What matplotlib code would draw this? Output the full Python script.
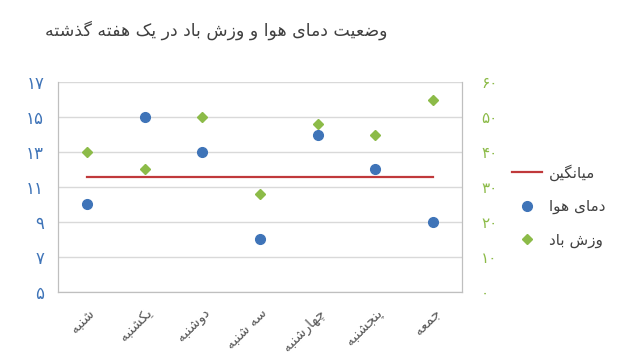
"""Weekly temperature and wind chart (Persian labels)."""
import matplotlib
matplotlib.use('Agg')
import matplotlib.pyplot as plt
import numpy as np

TITLE = 'وضعیت دمای هوا و وزش باد در یک هفته گذشته'
DAYS = ['شنبه', 'یکشنبه', 'دوشنبه', 'سه شنبه', 'چهارشنبه', 'پنجشنبه', 'جمعه']
TEMP = [10, 15, 13, 8, 14, 12, 9]
WIND = [40, 35, 50, 28, 48, 45, 55]
LEFT_TICKS = [5, 7, 9, 11, 13, 15, 17]
RIGHT_TICKS = [0, 10, 20, 30, 40, 50, 60]
LBL_MEAN = 'میانگین'
LBL_TEMP = 'دمای هوا'
LBL_WIND = 'وزش باد'

# presentation forms: isolated, final, initial, medial (None = right-joining only)
FORMS = {
    'ا': ('\uFE8D', '\uFE8E', None, None),
    'ب': ('\uFE8F', '\uFE90', '\uFE91', '\uFE92'),
    'پ': ('\uFB56', '\uFB57', '\uFB58', '\uFB59'),
    'ت': ('\uFE95', '\uFE96', '\uFE97', '\uFE98'),
    'ج': ('\uFE9D', '\uFE9E', '\uFE9F', '\uFEA0'),
    'چ': ('\uFB7A', '\uFB7B', '\uFB7C', '\uFB7D'),
    'د': ('\uFEA9', '\uFEAA', None, None),
    'ذ': ('\uFEAB', '\uFEAC', None, None),
    'ر': ('\uFEAD', '\uFEAE', None, None),
    'ز': ('\uFEAF', '\uFEB0', None, None),
    'س': ('\uFEB1', '\uFEB2', '\uFEB3', '\uFEB4'),
    'ش': ('\uFEB5', '\uFEB6', '\uFEB7', '\uFEB8'),
    'ض': ('\uFEBD', '\uFEBE', '\uFEBF', '\uFEC0'),
    'ع': ('\uFEC9', '\uFECA', '\uFECB', '\uFECC'),
    'ف': ('\uFED1', '\uFED2', '\uFED3', '\uFED4'),
    'ک': ('\uFB8E', '\uFB8F', '\uFB90', '\uFB91'),
    'گ': ('\uFB92', '\uFB93', '\uFB94', '\uFB95'),
    'م': ('\uFEE1', '\uFEE2', '\uFEE3', '\uFEE4'),
    'ن': ('\uFEE5', '\uFEE6', '\uFEE7', '\uFEE8'),
    'ه': ('\uFEE9', '\uFEEA', '\uFEEB', '\uFEEC'),
    'و': ('\uFEED', '\uFEEE', None, None),
    'ی': ('\uFBFC', '\uFBFD', '\uFBFE', '\uFBFF'),
}
FA_DIGITS = '۰۱۲۳۴۵۶۷۸۹'


def fa(text):
    out = []
    for i, ch in enumerate(text):
        if ch not in FORMS:
            out.append(ch)
            continue
        prev = text[i - 1] if i > 0 else None
        nxt = text[i + 1] if i + 1 < len(text) else None
        join_prev = prev in FORMS and FORMS[prev][2] is not None
        join_next = nxt in FORMS and FORMS[ch][2] is not None
        iso, fin, ini, med = FORMS[ch]
        if join_prev and join_next:
            out.append(med)
        elif join_prev:
            out.append(fin)
        elif join_next:
            out.append(ini)
        else:
            out.append(iso)
    return ''.join(out)[::-1]


def fa_num(n):
    return ''.join(FA_DIGITS[int(d)] for d in str(n))


plt.rcParams['font.family'] = ['DejaVu Sans']

BLUE = '#3f74b8'
GREEN = '#8cbb48'
RED = '#c0393b'
GRID = '#d9d9d9'

fig = plt.figure(figsize=(6.25, 3.63), dpi=100)
ax = fig.add_axes([0.0928, 0.1956, 0.646, 0.5785])
ax2 = ax.twinx()

x = np.arange(len(DAYS))
mean_temp = np.mean(TEMP)

l_mean, = ax.plot(x, [mean_temp] * len(DAYS), color=RED, linewidth=1.6, zorder=2)
l_temp, = ax.plot(x, TEMP, 'o', color=BLUE, markersize=7, zorder=3)
l_wind, = ax2.plot(x, WIND, 'D', color=GREEN, markersize=5, zorder=3)

ax.set_xlim(-0.5, len(DAYS) - 0.5)
ax.set_ylim(5, 17)
ax2.set_ylim(0, 60)

ax.set_yticks(LEFT_TICKS, labels=[fa_num(v) for v in LEFT_TICKS])
ax2.set_yticks(RIGHT_TICKS, labels=[fa_num(v) for v in RIGHT_TICKS])
ax.set_xticks(x, labels=[fa(d) for d in DAYS])

ax.grid(axis='y', color=GRID, linewidth=1)
ax.set_axisbelow(True)

for a in (ax, ax2):
    a.spines['top'].set_visible(False)
    for s in ('left', 'right', 'bottom'):
        a.spines[s].set_color('#bfbfbf')

ax.tick_params(axis='y', length=0, pad=10, labelsize=12, labelcolor=BLUE)
ax2.tick_params(axis='y', length=0, pad=14, labelsize=11, labelcolor=GREEN)
ax.tick_params(axis='x', length=0, pad=10, labelsize=10, labelcolor='#595959')
for lbl in ax.get_xticklabels():
    lbl.set_rotation(45)
    lbl.set_ha('right')
    lbl.set_rotation_mode('anchor')

fig.text(0.346, 0.917, fa(TITLE), ha='center', va='center', fontsize=12.5, color='#404040')

fig.legend([l_mean, l_temp, l_wind], [fa(LBL_MEAN), fa(LBL_TEMP), fa(LBL_WIND)],
           loc='center left', bbox_to_anchor=(0.797, 0.433), frameon=False,
           fontsize=11, labelspacing=1.2, handlelength=2.0, handletextpad=0.4,
           labelcolor='#404040')

fig.savefig('out.png', dpi=100)
